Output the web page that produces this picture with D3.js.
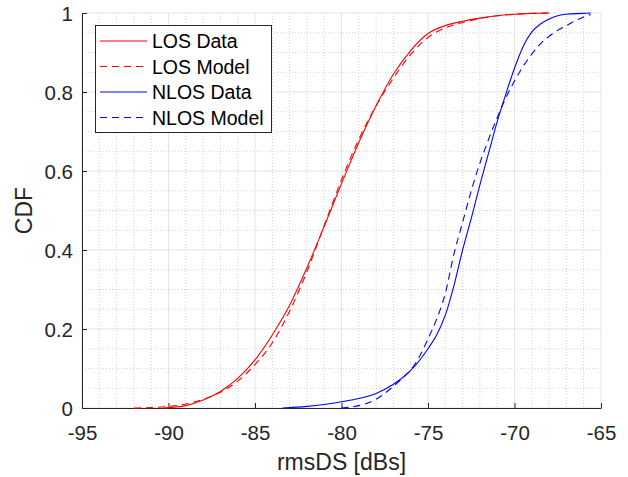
<!DOCTYPE html>
<html>
<head>
<meta charset="utf-8">
<script src="https://cdn.jsdelivr.net/npm/d3@7"></script>
<style>
  html, body { margin: 0; padding: 0; background: #fff; }
  svg { display: block; font-family: "Liberation Sans", Arial, Helvetica, sans-serif; }
</style>
</head>
<body>
<svg id="chart" width="628" height="477"></svg>
<script>
// ---------- data ----------
const xTicks = [-95, -90, -85, -80, -75, -70, -65];
const xTickLabels = ["-95", "-90", "-85", "-80", "-75", "-70", "-65"];
const yTicks = [0, 0.2, 0.4, 0.6, 0.8, 1];
const yTickLabels = ["0", "0.2", "0.4", "0.6", "0.8", "1"];
const xLabel = "rmsDS [dBs]";
const yLabel = "CDF";
const seriesNames = ["LOS Data", "LOS Model", "NLOS Data", "NLOS Model"];

const losDataX = [-90.3, -90, -89, -88, -87, -86, -85, -84, -83, -82, -81, -80, -79, -78, -77, -76, -75, -74, -73, -72, -71, -70, -69, -68];
const losDataY = [0, 0.001, 0.006, 0.02, 0.042, 0.075, 0.122, 0.185, 0.26, 0.355, 0.46, 0.568, 0.672, 0.765, 0.845, 0.905, 0.948, 0.968, 0.979, 0.987, 0.993, 0.997, 0.999, 1.0];

const losModelX = [-92, -91, -90, -89, -88, -87, -86, -85, -84, -83, -82, -81, -80, -79, -78, -77, -76, -75, -74, -73, -72, -71, -70, -68];
const losModelY = [0, 0.001, 0.004, 0.01, 0.022, 0.04, 0.068, 0.11, 0.165, 0.245, 0.345, 0.462, 0.578, 0.68, 0.765, 0.835, 0.895, 0.938, 0.962, 0.976, 0.986, 0.993, 0.997, 1.0];

const nlosDataX = [-83.4, -82, -81, -80, -79, -78, -77, -76, -75, -74.5, -74, -73.5, -73, -72.5, -72, -71.5, -71, -70.5, -70, -69.5, -69, -68.5, -68, -67.5, -67, -66, -65.6];
const nlosDataY = [0, 0.004, 0.009, 0.016, 0.024, 0.037, 0.06, 0.095, 0.15, 0.185, 0.235, 0.31, 0.4, 0.48, 0.565, 0.645, 0.725, 0.795, 0.86, 0.915, 0.952, 0.972, 0.985, 0.993, 0.997, 0.999, 1.0];

const nlosModelX = [-80, -79, -78, -77.5, -77, -76.5, -76, -75.5, -75, -74.5, -74, -73.5, -73, -72.5, -72, -71.5, -71, -70.5, -70, -69.5, -69, -68.5, -68, -67.5, -67, -66.5, -66, -65.6];
const nlosModelY = [0, 0.006, 0.022, 0.037, 0.055, 0.075, 0.096, 0.13, 0.175, 0.225, 0.29, 0.39, 0.47, 0.55, 0.62, 0.68, 0.735, 0.785, 0.828, 0.865, 0.896, 0.922, 0.941, 0.956, 0.968, 0.98, 0.99, 0.996];

// ---------- layout ----------
const m = { left: 82, right: 601, top: 13, bottom: 408 };
const axisColor = "#262626";

const svg = d3.select("#chart");
const x = d3.scaleLinear().domain([-95, -65]).range([m.left, m.right]);
const y = d3.scaleLinear().domain([0, 1]).range([m.bottom, m.top]);

// minor grid
const xMinor = d3.range(-95, -64.99, 1).filter(v => Math.abs(v % 5) > 1e-9);
const yMinor = d3.range(0, 1.0001, 0.05).filter(v => Math.abs(Math.round(v * 100) % 20) > 1e-6);
const grid = svg.append("g");
grid.selectAll("line.xm").data(xMinor).enter().append("line")
  .attr("x1", d => x(d)).attr("x2", d => x(d))
  .attr("y1", m.top).attr("y2", m.bottom)
  .attr("stroke", "#d2d2d2").attr("stroke-width", 1).attr("stroke-dasharray", "1,2");
grid.selectAll("line.ym").data(yMinor).enter().append("line")
  .attr("y1", d => y(d)).attr("y2", d => y(d))
  .attr("x1", m.left).attr("x2", m.right)
  .attr("stroke", "#d2d2d2").attr("stroke-width", 1).attr("stroke-dasharray", "1,2");
// major grid
grid.selectAll("line.xM").data(xTicks).enter().append("line")
  .attr("x1", d => x(d)).attr("x2", d => x(d))
  .attr("y1", m.top).attr("y2", m.bottom)
  .attr("stroke", "#e3e3e3").attr("stroke-width", 1);
grid.selectAll("line.yM").data(yTicks).enter().append("line")
  .attr("y1", d => y(d)).attr("y2", d => y(d))
  .attr("x1", m.left).attr("x2", m.right)
  .attr("stroke", "#e3e3e3").attr("stroke-width", 1);

// axes
const xAxis = d3.axisBottom(x).tickValues(xTicks).tickSizeInner(-5).tickSizeOuter(0).tickPadding(17)
  .tickFormat((d, i) => xTickLabels[i]);
const yAxis = d3.axisLeft(y).tickValues(yTicks).tickSizeInner(-5).tickSizeOuter(0).tickPadding(9)
  .tickFormat((d, i) => yTickLabels[i]);

const gx = svg.append("g").attr("transform", `translate(0,${m.bottom})`).call(xAxis);
const gy = svg.append("g").attr("transform", `translate(${m.left},0)`).call(yAxis);
[gx, gy].forEach(g => {
  g.select(".domain").attr("stroke", axisColor).attr("stroke-width", 1);
  g.selectAll(".tick line").attr("stroke", axisColor);
  g.selectAll(".tick text").attr("fill", axisColor).style("font-size", "20.5px")
    .style("font-family", "'Liberation Sans', Arial, sans-serif");
});
gx.selectAll(".tick text").attr("dy", "0.71em");
gy.selectAll(".tick text").attr("dy", "0.35em");

// axis titles
svg.append("text").attr("x", (m.left + m.right) / 2).attr("y", 470)
  .attr("text-anchor", "middle").attr("fill", axisColor).style("font-size", "23px").text(xLabel);
svg.append("text").attr("transform", `translate(32,${(m.top + m.bottom) / 2}) rotate(-90)`)
  .attr("text-anchor", "middle").attr("fill", axisColor).style("font-size", "23px").text(yLabel);

// data lines
const series = [
  { name: seriesNames[0], xs: losDataX, ys: losDataY, color: "#ff0000", dash: null },
  { name: seriesNames[1], xs: losModelX, ys: losModelY, color: "#ff0000", dash: "7,5" },
  { name: seriesNames[2], xs: nlosDataX, ys: nlosDataY, color: "#0000ff", dash: null },
  { name: seriesNames[3], xs: nlosModelX, ys: nlosModelY, color: "#0000ff", dash: "7,5" }
];
const line = d3.line().x(d => x(d[0])).y(d => y(d[1])).curve(d3.curveMonotoneX);
const lines = svg.append("g");
series.forEach(s => {
  const pts = s.xs.map((v, i) => [v, s.ys[i]]);
  lines.append("path").datum(pts).attr("d", line)
    .attr("fill", "none").attr("stroke", s.color).attr("stroke-width", 1.1)
    .attr("stroke-dasharray", s.dash);
});

// legend
const lg = svg.append("g");
lg.append("rect").attr("x", 95.5).attr("y", 25.5).attr("width", 176).attr("height", 107)
  .attr("fill", "#fff").attr("stroke", axisColor).attr("stroke-width", 1);
series.forEach((s, i) => {
  const cy = 41 + i * 25.5;
  lg.append("line").attr("x1", 100).attr("x2", 147).attr("y1", cy).attr("y2", cy)
    .attr("stroke", s.color).attr("stroke-width", 1.1).attr("stroke-dasharray", s.dash);
  lg.append("text").attr("x", 152).attr("y", cy).attr("dy", "0.36em")
    .attr("fill", "#000").style("font-size", "19.5px").text(s.name);
});
</script>
</body>
</html>
